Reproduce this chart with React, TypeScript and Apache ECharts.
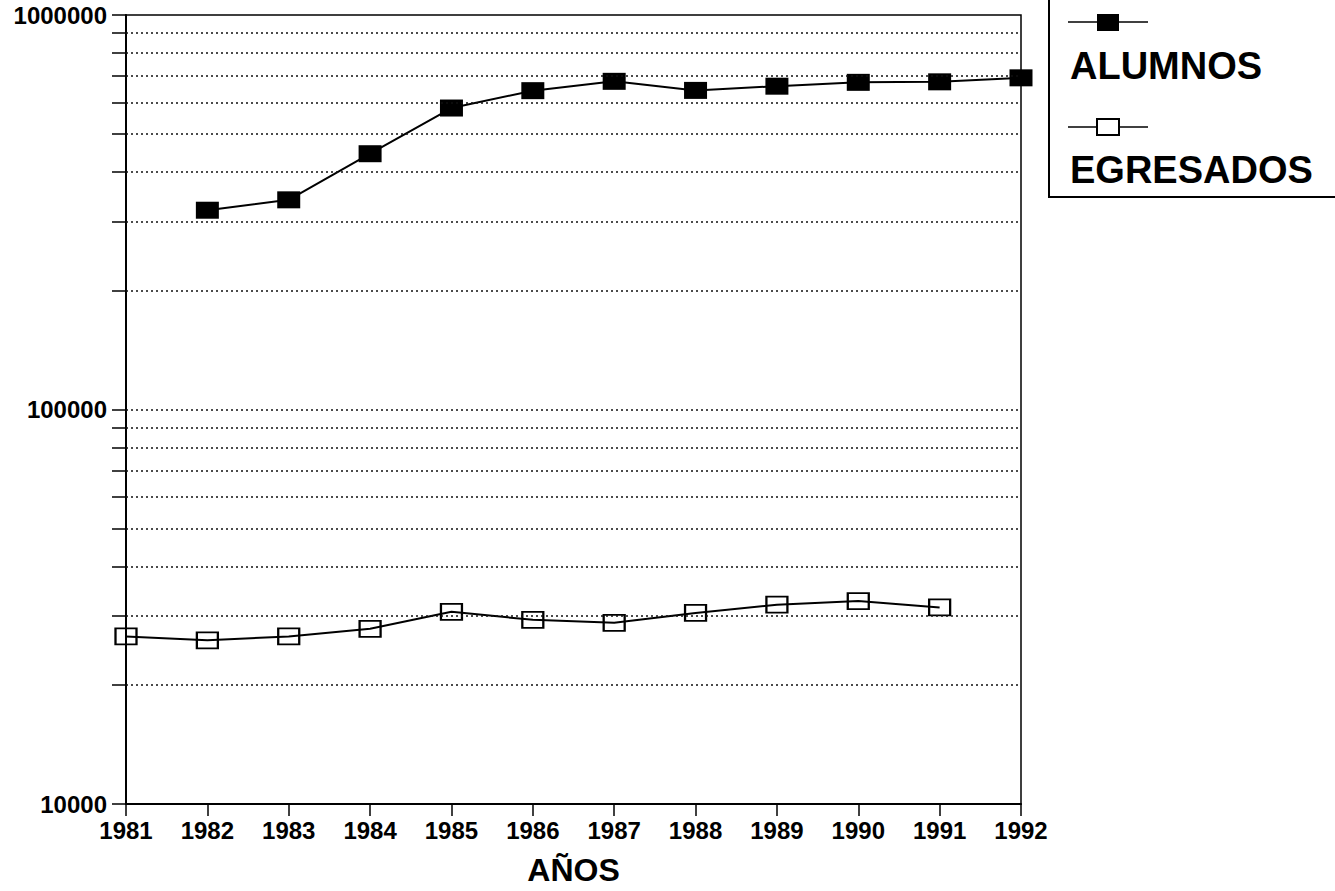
import React, { useEffect, useRef } from "react";
import * as echarts from "echarts";

const years = ["1981", "1982", "1983", "1984", "1985", "1986", "1987", "1988", "1989", "1990", "1991", "1992"];
const alumnos = [null, 320000, 340000, 445000, 581000, 643000, 679000, 644000, 660000, 675000, 677000, 693000];
const egresados = [26600, 26000, 26600, 27800, 30700, 29300, 28800, 30500, 32000, 32700, 31500, null];
const gridValues = [20000, 30000, 40000, 50000, 60000, 70000, 80000, 90000, 100000, 200000, 300000, 400000, 500000, 600000, 700000, 800000, 900000];
const yTickValues = [10000, 20000, 30000, 40000, 50000, 60000, 70000, 80000, 90000, 100000, 200000, 300000, 400000, 500000, 600000, 700000, 800000, 900000, 1000000];
const yLabelValues = [10000, 100000, 1000000];
const seriesNames = ["ALUMNOS", "EGRESADOS"];
const xAxisTitle = "AÑOS";

const FONT = "'Liberation Sans', Arial, Helvetica, sans-serif";

export default function App() {
  const ref = useRef<HTMLDivElement>(null);
  useEffect(() => {
    if (!ref.current) return;
    const chart = echarts.init(ref.current, null, { renderer: "svg" });
    chart.setOption({
      animation: false,
      backgroundColor: "#fff",
      grid: {
        left: 126,
        right: 314,
        top: 15,
        bottom: 85,
        show: true,
        borderColor: "#000",
        borderWidth: 1.5,
        backgroundColor: "transparent",
      },
      xAxis: {
        type: "category",
        data: years,
        boundaryGap: false,
        name: xAxisTitle,
        nameLocation: "middle",
        nameGap: 50,
        nameTextStyle: { color: "#000", fontSize: 32, fontWeight: "bold", fontFamily: FONT },
        axisLine: { show: true, lineStyle: { color: "#000", width: 2 } },
        axisTick: { show: true, length: 12, lineStyle: { color: "#000", width: 1.5 } },
        axisLabel: { color: "#000", fontSize: 24, fontWeight: "bold", fontFamily: FONT, margin: 14, interval: 0 },
        splitLine: { show: false },
      },
      yAxis: {
        type: "log",
        logBase: 10,
        min: 10000,
        max: 1000000,
        axisLine: { show: true, lineStyle: { color: "#000", width: 2 } },
        axisTick: { show: true, length: 14, customValues: yTickValues, lineStyle: { color: "#000", width: 1.5 } },
        axisLabel: {
          customValues: yLabelValues,
          color: "#000",
          fontSize: 24,
          fontWeight: "bold",
          fontFamily: FONT,
          margin: 19,
          formatter: (v: number) => String(Math.round(v)),
        },
        splitLine: { show: false },
        minorTick: { show: false },
      },
      series: [
        {
          name: seriesNames[0],
          type: "line",
          data: alumnos,
          symbol: "rect",
          symbolSize: [23, 17],
          showSymbol: true,
          connectNulls: false,
          itemStyle: { color: "#000" },
          lineStyle: { color: "#000", width: 2 },
          emphasis: { disabled: true },
          z: 3,
          markLine: {
            silent: true,
            symbol: ["none", "none"],
            label: { show: false },
            emphasis: { disabled: true },
            lineStyle: { color: "#111", type: [2, 3], width: 1.5 },
            data: gridValues.map((v) => ({ yAxis: v })),
          },
        },
        {
          name: seriesNames[1],
          type: "line",
          data: egresados,
          symbol: "rect",
          symbolSize: [21, 16],
          showSymbol: true,
          connectNulls: false,
          itemStyle: { color: "rgba(255,255,255,0)", borderColor: "#000", borderWidth: 2 },
          lineStyle: { color: "#000", width: 2 },
          emphasis: { disabled: true },
          z: 3,
        },
      ],
      graphic: [
        {
          type: "polyline",
          shape: { points: [[1049, -5], [1049, 197], [1340, 197]] },
          style: { stroke: "#000", lineWidth: 2, fill: "none" },
          silent: true,
        },
        {
          type: "line",
          shape: { x1: 1068, y1: 22, x2: 1148, y2: 22 },
          style: { stroke: "#000", lineWidth: 1.5 },
          silent: true,
        },
        {
          type: "rect",
          shape: { x: 1097, y: 14, width: 22, height: 17 },
          style: { fill: "#000" },
          silent: true,
        },
        {
          type: "text",
          x: 1070,
          y: 66,
          style: {
            text: seriesNames[0],
            fill: "#000",
            font: `bold 38px ${FONT}`,
            textVerticalAlign: "middle",
            verticalAlign: "middle",
          },
          silent: true,
        },
        {
          type: "line",
          shape: { x1: 1068, y1: 127, x2: 1148, y2: 127 },
          style: { stroke: "#000", lineWidth: 1.5 },
          silent: true,
        },
        {
          type: "rect",
          shape: { x: 1097, y: 119, width: 22, height: 16 },
          style: { fill: "#fff", stroke: "#000", lineWidth: 2 },
          silent: true,
        },
        {
          type: "text",
          x: 1070,
          y: 170,
          style: {
            text: seriesNames[1],
            fill: "#000",
            font: `bold 38px ${FONT}`,
            textVerticalAlign: "middle",
            verticalAlign: "middle",
          },
          silent: true,
        },
      ],
    });
    return () => chart.dispose();
  }, []);
  return <div ref={ref} style={{ position: "fixed", left: 0, top: 0, width: 1335, height: 891 }} />;
}
